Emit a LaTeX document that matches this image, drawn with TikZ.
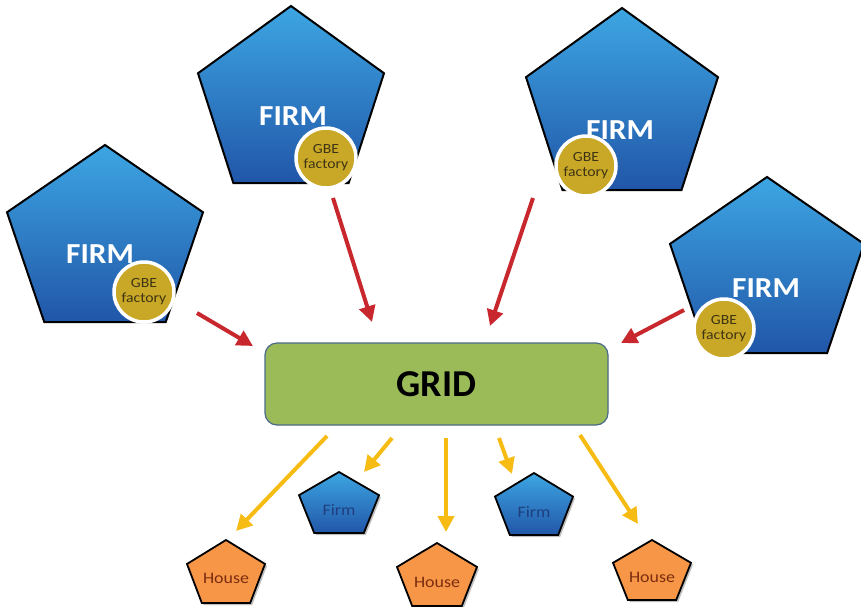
\documentclass[tikz,border=0pt]{standalone}
\usepackage{fontspec}
\setmainfont{Carlito}
\usetikzlibrary{arrows.meta}
\definecolor{bluetop}{HTML}{3DA6E3}
\definecolor{bluebot}{HTML}{2156A8}
\definecolor{gbefill}{HTML}{C9A827}
\definecolor{gbetext}{HTML}{3E3414}
\definecolor{gridgreen}{HTML}{9BBB59}
\definecolor{gridedge}{HTML}{4A6A8A}
\definecolor{houseor}{HTML}{F79646}
\definecolor{housetext}{HTML}{7A2C10}
\definecolor{firmtext}{HTML}{1F3F80}
\definecolor{redarrow}{HTML}{C8282D}
\definecolor{yelarrow}{HTML}{F7BC14}
\newcommand\pentagon[6]{% name, cx, top, hw, h, style
  \path[#6] (#2,#3) -- ({#2+#4},{#3+0.38*#5}) -- ({#2+0.62*#4},{#3+#5})
    -- ({#2-0.62*#4},{#3+#5}) -- ({#2-#4},{#3+0.38*#5}) -- cycle;
  \coordinate (#1) at (#2,{#3+0.55*#5});}
\tikzset{
  bigpent/.style={draw=black, line width=2pt, line join=miter, top color=bluetop, bottom color=bluebot},
  smallpent/.style={draw=black, line width=1.8pt, top color=bluetop, bottom color=bluebot},
  housepent/.style={draw=black, line width=1.8pt, fill=houseor},
  shadowpent/.style={fill=black, opacity=0.25},
  firmlabel/.style={text=white, font=\bfseries\fontsize{29}{29}\selectfont, xscale=1.08, inner sep=0pt},
  gbe/.style={circle, draw=white, line width=3.5pt, fill=gbefill, minimum size=60pt, inner sep=0pt},
  gbelabel/.style={text=gbetext, align=center, font=\fontsize{14}{15}\selectfont, xscale=1.12, inner sep=0pt},
  gridbox/.style={draw=gridedge, line width=1.2pt, fill=gridgreen, rounded corners=12pt,
    minimum width=343pt, minimum height=82pt, font=\bfseries\fontsize{38}{38}\selectfont},
  smalllabel/.style={font=\fontsize{16}{16}\selectfont, inner sep=0pt, xscale=1.12},
  redarr/.style={draw=redarrow, line width=4pt, -{Triangle[length=16pt,width=16pt]}},
  yelarr/.style={draw=yelarrow, line width=4pt, -{Triangle[length=16pt,width=16pt]}},
}
\begin{document}
\begin{tikzpicture}[x=1pt, y=-1pt]
\useasboundingbox (0,0) rectangle (861,606);
\fill[white] (0,0) rectangle (861,606);
% big firms
\pentagon{firmA}{105}{145}{98}{177}{bigpent}
\pentagon{firmB}{291}{6}{93}{177}{bigpent}
\pentagon{firmC}{622}{8}{96}{182}{bigpent}
\pentagon{firmD}{767}{177}{97}{176}{bigpent}
\node[firmlabel] (firmAt) at (100,254) {FIRM};
\node[firmlabel] (firmBt) at (293,116) {FIRM};
\node[firmlabel] (firmCt) at (620,130) {FIRM};
\node[firmlabel] (firmDt) at (766,288) {FIRM};
\node[gbe] (gbeA) at (144,292) {};
\node[gbe] (gbeB) at (326,158) {};
\node[gbe] (gbeC) at (586,166) {};
\node[gbe] (gbeD) at (724,329) {};
\node[gbelabel] (gbeAt) at (gbeA) {GBE\\factory};
\node[gbelabel] (gbeBt) at (gbeB) {GBE\\factory};
\node[gbelabel] (gbeCt) at (gbeC) {GBE\\factory};
\node[gbelabel] (gbeDt) at (gbeD) {GBE\\factory};
% grid
\node[gridbox] (grid) at (436.5,384) {GRID};
% small shapes
\pentagon{sfA}{341}{474}{40}{61}{shadowpent}
\pentagon{sfB}{536}{475}{39}{62}{shadowpent}
\pentagon{shA}{228}{542}{39}{63}{shadowpent}
\pentagon{shB}{439}{545}{40}{63}{shadowpent}
\pentagon{shC}{654}{542}{39}{60}{shadowpent}
\pentagon{smallfirmA}{339}{472}{40}{61}{smallpent}
\pentagon{smallfirmB}{534}{473}{39}{62}{smallpent}
\pentagon{houseA}{226}{540}{39}{63}{housepent}
\pentagon{houseB}{437}{543}{40}{63}{housepent}
\pentagon{houseC}{652}{540}{39}{60}{housepent}
\node[smalllabel, text=firmtext] (smallfirmAt) at (339,510) {Firm};
\node[smalllabel, text=firmtext] (smallfirmBt) at (534,512) {Firm};
\node[smalllabel, text=housetext] (houseAt) at (226,578) {House};
\node[smalllabel, text=housetext] (houseBt) at (437,582) {House};
\node[smalllabel, text=housetext] (houseCt) at (652,577) {House};
% arrow end coordinates
\coordinate (rA1) at (197,313); \coordinate (rA2) at (253,346);
\coordinate (rB1) at (333,198); \coordinate (rB2) at (372,322);
\coordinate (rC1) at (533,198); \coordinate (rC2) at (490,326);
\coordinate (rD1) at (684,310); \coordinate (rD2) at (621,343);
\coordinate (y11) at (327,436); \coordinate (y12) at (236,531);
\coordinate (y21) at (392,438); \coordinate (y22) at (364,472);
\coordinate (y31) at (446,438); \coordinate (y32) at (446,532);
\coordinate (y41) at (499,438); \coordinate (y42) at (512,474);
\coordinate (y51) at (580,435); \coordinate (y52) at (638,524);
\draw[redarr] (rA1) -- (rA2);
\draw[redarr] (rB1) -- (rB2);
\draw[redarr] (rC1) -- (rC2);
\draw[redarr] (rD1) -- (rD2);
\draw[yelarr] (y11) -- (y12);
\draw[yelarr] (y21) -- (y22);
\draw[yelarr] (y31) -- (y32);
\draw[yelarr] (y41) -- (y42);
\draw[yelarr] (y51) -- (y52);
\end{tikzpicture}
\end{document}
